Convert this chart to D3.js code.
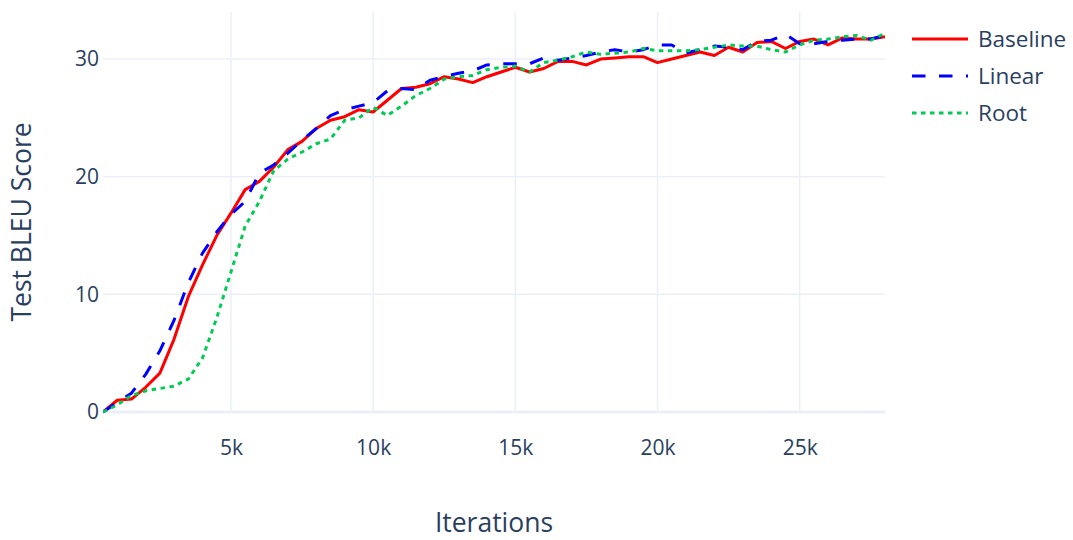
<!DOCTYPE html>
<html>
<head>
<meta charset="utf-8">
<script src="https://cdn.jsdelivr.net/npm/d3@7"></script>
<style>
  body { margin: 0; background: #fff; }
  svg { font-family: "Open Sans", sans-serif; }
</style>
</head>
<body>
<div id="chart"><svg></svg></div>
<script>
// iterations, one reading every 500 steps
const iterations = d3.range(500, 28001, 500)

const baseline = [0, 1.0, 1.1, 2.1, 3.3, 6.2, 9.8, 12.5, 15.0, 16.9, 18.9, 19.6, 20.8, 22.3, 23.0, 24.1,
  24.8, 25.1, 25.7, 25.5, 26.5, 27.5, 27.6, 27.9, 28.5, 28.3, 28.0, 28.5, 28.9, 29.3, 28.9, 29.2,
  29.8, 29.8, 29.5, 30.0, 30.1, 30.2, 30.2, 29.7, 30.0, 30.3, 30.6, 30.3, 31.0, 30.6, 31.4, 31.5,
  30.9, 31.5, 31.7, 31.2, 31.8, 31.7, 31.7, 31.9]

const linear = [0, 0.8, 1.6, 3.2, 5.2, 7.8, 11.0, 13.5, 15.3, 16.8, 17.9, 20.3, 21.0, 22.0, 23.1, 24.1,
  25.2, 25.7, 26.0, 26.3, 27.3, 27.5, 27.4, 28.2, 28.5, 28.8, 29.0, 29.5, 29.6, 29.6, 29.6, 30.1,
  29.9, 30.1, 30.3, 30.6, 30.8, 30.6, 30.8, 31.2, 31.2, 30.5, 30.8, 31.1, 31.0, 30.8, 31.5, 31.6,
  32.1, 31.3, 31.3, 31.5, 31.6, 31.7, 31.7, 32.0]

const root = [0, 0.6, 1.4, 1.8, 2.0, 2.2, 2.8, 4.6, 8.0, 11.9, 15.8, 17.9, 20.5, 21.5, 22.1, 22.8,
  23.2, 24.8, 25.0, 25.9, 25.2, 26.0, 26.9, 27.5, 28.3, 28.5, 28.6, 29.1, 29.3, 29.4, 28.9, 29.7,
  29.9, 30.2, 30.6, 30.4, 30.5, 30.6, 30.9, 30.7, 30.7, 30.7, 30.8, 31.0, 31.2, 31.1, 31.1, 30.8,
  30.6, 31.2, 31.6, 31.7, 31.9, 32.0, 31.6, 32.2]

const seriesNames = ['Baseline', 'Linear', 'Root']
const xTicks = [5000, 10000, 15000, 20000, 25000]
const yTicks = [0, 10, 20, 30]

const width = 1073
const height = 540
const margin = {left: 103, right: 188, top: 12, bottom: 128}
const textColor = '#2a3f5f'
const gridColor = '#ebf0f8'

const svg = d3.select('#chart').select('svg')
  .attr('width', width)
  .attr('height', height)

const x = d3.scaleLinear()
  .domain(d3.extent(iterations))
  .range([margin.left, width - margin.right])
const y = d3.scaleLinear()
  .domain([0, 34])
  .range([height - margin.bottom, margin.top])

// grid
svg.append('g')
  .selectAll('line')
  .data(xTicks)
  .enter()
  .append('line')
  .attr('x1', d => x(d)).attr('x2', d => x(d))
  .attr('y1', margin.top).attr('y2', height - margin.bottom)
  .attr('stroke', gridColor)
  .attr('stroke-width', 1.5)

svg.append('g')
  .selectAll('line')
  .data(yTicks)
  .enter()
  .append('line')
  .attr('x1', margin.left).attr('x2', width - margin.right)
  .attr('y1', d => y(d)).attr('y2', d => y(d))
  .attr('stroke', gridColor)
  .attr('stroke-width', d => d === 0 ? 3 : 1.5)

// axes (labels only)
const xAxis = svg.append('g')
  .attr('transform', `translate(0,${height - margin.bottom})`)
  .call(d3.axisBottom(x).tickValues(xTicks).tickFormat(d3.format('~s')).tickSize(0).tickPadding(28))
const yAxis = svg.append('g')
  .attr('transform', `translate(${margin.left},0)`)
  .call(d3.axisLeft(y).tickValues(yTicks).tickSize(0).tickPadding(4))

;[xAxis, yAxis].forEach(ax => {
  ax.select('.domain').remove()
  ax.selectAll('text')
    .attr('fill', textColor)
    .attr('font-size', '21px')
    .attr('font-family', '"Open Sans", sans-serif')
})

// lines
const styles = [
  {color: '#ff0000', dash: null},
  {color: '#0000ff', dash: '13.5,13.5'},
  {color: '#00cc55', dash: '4.5,4.5'}
]
const allSeries = [baseline, linear, root]

svg.append('clipPath').attr('id', 'clip')
  .append('rect')
  .attr('x', margin.left).attr('y', margin.top - 4)
  .attr('width', width - margin.left - margin.right)
  .attr('height', height - margin.top - margin.bottom + 8)

const line = d3.line()
  .x((d, i) => x(iterations[i]))
  .y(d => y(d))

svg.append('g')
  .attr('clip-path', 'url(#clip)')
  .selectAll('path')
  .data(allSeries)
  .enter()
  .append('path')
  .attr('d', d => line(d))
  .attr('fill', 'none')
  .attr('stroke', (d, i) => styles[i].color)
  .attr('stroke-width', 3)
  .attr('stroke-dasharray', (d, i) => styles[i].dash)
  .attr('stroke-linejoin', 'round')

// legend
const legend = svg.append('g')
  .selectAll('.item')
  .data(seriesNames)
  .enter()
  .append('g')
  .attr('class', 'item')
  .attr('transform', (d, i) => `translate(912,${39 + i * 37})`)

legend.append('line')
  .attr('x1', 0).attr('x2', 56)
  .attr('stroke', (d, i) => styles[i].color)
  .attr('stroke-width', 3)
  .attr('stroke-dasharray', (d, i) => styles[i].dash)

legend.append('text')
  .attr('x', 66)
  .attr('dy', '0.35em')
  .attr('font-size', '22.5px')
  .attr('fill', textColor)
  .text(d => d)

// axis titles
svg.append('text')
  .attr('x', (margin.left + width - margin.right) / 2)
  .attr('y', 532)
  .attr('text-anchor', 'middle')
  .attr('font-size', '26.5px')
  .attr('fill', textColor)
  .text('Iterations')

svg.append('text')
  .attr('transform', `translate(31,${(margin.top + height - margin.bottom) / 2 + 10}) rotate(-90)`)
  .attr('text-anchor', 'middle')
  .attr('font-size', '26.5px')
  .attr('fill', textColor)
  .text('Test BLEU Score')
</script>
</body>
</html>
